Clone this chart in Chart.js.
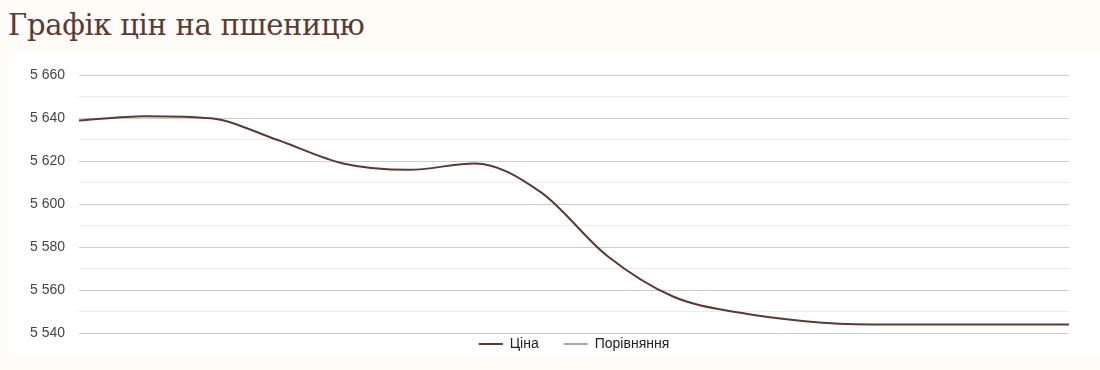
<!DOCTYPE html>
<html lang="uk">
<head>
<meta charset="utf-8">
<script src="https://cdn.jsdelivr.net/npm/chart.js@4"></script>
<style>
  html, body { margin: 0; padding: 0; background: #fffbf7; }
  body { width: 1100px; height: 370px; position: relative; overflow: hidden; }
  h1 {
    position: absolute; left: 8px; top: 8px; margin: 0;
    font: 400 29px 'DejaVu Serif', serif; color: #5b3a33; letter-spacing: -0.3px;
  }
  .card { position: absolute; left: 8px; top: 53px; width: 1092px; height: 302px; background: #fff; }
  .chart-box { position: absolute; left: 8px; top: 53px; width: 1092px; height: 308px; }
</style>
</head>
<body>
<h1>Графік цін на пшеницю</h1>
<div class="card"></div>
<div class="chart-box"><canvas id="chart"></canvas></div>
<script>
// Дані графіка
const labels = ['1', '2', '3', '4', '5', '6', '7', '8', '9', '10', '11', '12', '13', '14', '15', '16'];
const priceValues = [5639, 5641, 5640, 5630, 5619, 5616, 5619, 5605.5, 5576, 5557, 5549.5, 5545.5, 5544, 5544, 5544, 5544];
const compareValues = [];
const yTicks = [5540, 5560, 5580, 5600, 5620, 5640, 5660];

const COLORS = {
  price: '#5b3a33',
  compare: '#a9a99a',
  text: '#444444',
  gridMajor: '#cccccc',
  gridMinor: '#ebebeb'
};

const fmt = v => String(v).replace(/\B(?=(\d{3})+(?!\d))/g, ' ');

new Chart(document.getElementById('chart'), {
  type: 'line',
  data: {
    labels,
    datasets: [
      {
        label: 'Ціна',
        data: priceValues,
        borderColor: COLORS.price,
        backgroundColor: COLORS.price,
        borderWidth: 2,
        pointRadius: 0,
        tension: 0.4,
        cubicInterpolationMode: 'monotone'
      },
      {
        label: 'Порівняння',
        data: compareValues,
        borderColor: COLORS.compare,
        backgroundColor: COLORS.compare,
        borderWidth: 2,
        pointRadius: 0
      }
    ]
  },
  options: {
    responsive: true,
    maintainAspectRatio: false,
    animation: false,
    layout: { padding: { left: 8, right: 31, top: 14, bottom: 0 } },
    plugins: {
      legend: {
        position: 'bottom',
        fullSize: false,
        labels: {
          color: '#222',
          font: { family: "'Liberation Sans', Arial, sans-serif", size: 14 },
          boxWidth: 24,
          boxHeight: 2,
          padding: 4,
          // padding тримає легенду близько до графіка, відступ між пунктами - пробілами
          generateLabels: chart => Chart.defaults.plugins.legend.labels.generateLabels(chart)
            .map((item, i, all) => ({
              ...item,
              lineWidth: 0,
              text: i < all.length - 1 ? item.text + '\u2002\u2002\u2002' : item.text
            }))
        }
      },
      tooltip: { enabled: false }
    },
    scales: {
      x: { display: false },
      y: {
        min: yTicks[0],
        max: yTicks[yTicks.length - 1],
        border: { display: false },
        ticks: {
          stepSize: 10,
          padding: 14,
          color: COLORS.text,
          font: { family: "'Liberation Sans', Arial, sans-serif", size: 14 },
          callback: v => (yTicks.includes(v) ? fmt(v) : '')
        },
        grid: {
          drawTicks: false,
          color: ctx => (yTicks.includes(ctx.tick.value) ? COLORS.gridMajor : COLORS.gridMinor)
        }
      }
    }
  }
});
</script>
</body>
</html>
